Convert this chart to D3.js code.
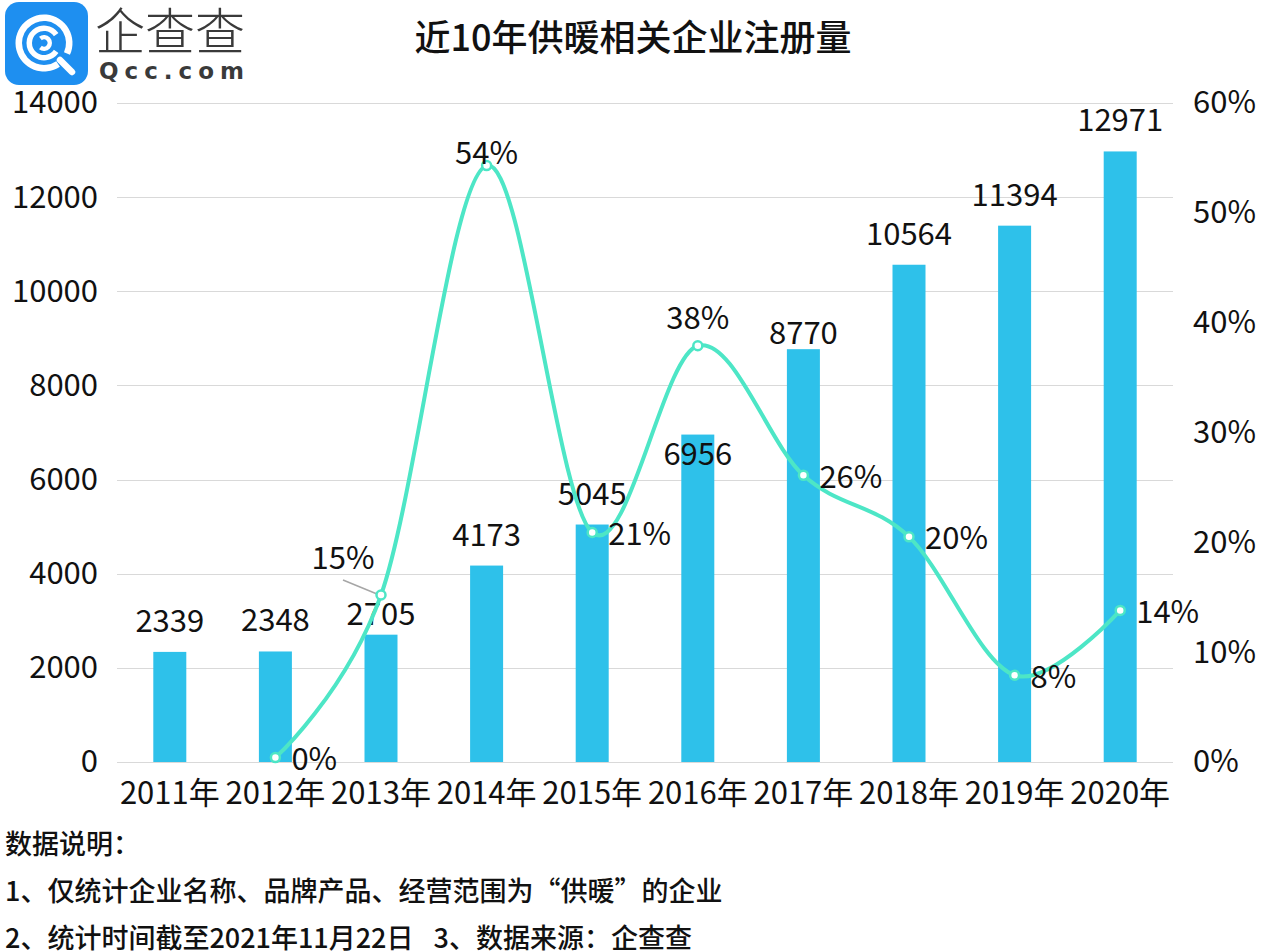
<!DOCTYPE html>
<html><head><meta charset="utf-8">
<script src="https://cdn.jsdelivr.net/npm/d3@7/dist/d3.min.js"></script>
<style>
html,body{margin:0;padding:0;background:#fff;}
svg{display:block;font-family:"Noto Sans CJK SC","Noto Sans",sans-serif;}
</style></head>
<body>
<svg id="chart" width="1268" height="952"></svg>
<script>
const years = ["2011年","2012年","2013年","2014年","2015年","2016年","2017年","2018年","2019年","2020年"];
const registrations = [2339,2348,2705,4173,5045,6956,8770,10564,11394,12971];
const growthYears = ["2012年","2013年","2014年","2015年","2016年","2017年","2018年","2019年","2020年"];
const growthPct = [0.4,15.2,54.3,20.9,37.9,26.1,20.5,7.9,13.8];
const growthLabels = ["0%","15%","54%","21%","38%","26%","20%","8%","14%"];
const leftTicks = [0,2000,4000,6000,8000,10000,12000,14000];
const rightTicks = [0,10,20,30,40,50,60];
const title = "近10年供暖相关企业注册量";
const notes = ["数据说明：","1、仅统计企业名称、品牌产品、经营范围为“供暖”的企业",["2、统计时间截至2021年11月22日","3、数据来源：企查查"]];

const svg = d3.select("#chart");
const M = {left:117, right:1173, top:103, bottom:762};
const FONT = 31;

const x = d3.scaleBand().domain(years).range([M.left, M.right]).paddingInner(0).paddingOuter(0);
const yL = d3.scaleLinear().domain([0,14000]).range([M.bottom, M.top]);
const yR = d3.scaleLinear().domain([0,60]).range([M.bottom, M.top]);
const cx = d => x(d) + x.bandwidth()/2;
const barW = 33;

// gridlines
svg.append("g").selectAll("line").data(leftTicks).join("line")
  .attr("x1", M.left).attr("x2", M.right)
  .attr("y1", d => Math.round(yL(d))+0.5).attr("y2", d => Math.round(yL(d))+0.5)
  .attr("stroke", "#d9d9d9").attr("stroke-width", 1.2);

// left axis
const gl = svg.append("g").attr("transform", `translate(${M.left},0)`)
  .call(d3.axisLeft(yL).tickValues(leftTicks).tickSize(0).tickPadding(19).tickFormat(d3.format("d")));
gl.select(".domain").remove();
gl.selectAll("text").attr("font-size", FONT).attr("fill", "#111").attr("font-family", "Noto Sans CJK SC");

// right axis
const gr = svg.append("g").attr("transform", `translate(${M.right},0)`)
  .call(d3.axisRight(yR).tickValues(rightTicks).tickSize(0).tickPadding(20).tickFormat(d => d + "%"));
gr.select(".domain").remove();
gr.selectAll("text").attr("font-size", FONT).attr("fill", "#111").attr("font-family", "Noto Sans CJK SC");

// bottom axis
const gb = svg.append("g").attr("transform", `translate(0,${M.bottom})`)
  .call(d3.axisBottom(x).tickSize(0).tickPadding(20));
gb.select(".domain").remove();
gb.selectAll("text").attr("font-size", FONT).attr("fill", "#111").attr("font-family", "Noto Sans CJK SC");

// bars
const bars = years.map((y,i) => ({year:y, value:registrations[i]}));
svg.append("g").selectAll("rect").data(bars).join("rect")
  .attr("x", d => cx(d.year) - barW/2).attr("width", barW)
  .attr("y", d => yL(d.value)).attr("height", d => yL(0) - yL(d.value))
  .attr("fill", "#2ec1ea");

// bar labels (Excel auto-placement tweaks)
const barDy = {"2013年": -10, "2016年": 30, "2017年": -5};
svg.append("g").selectAll("text").data(bars).join("text")
  .attr("x", d => cx(d.year))
  .attr("y", d => yL(d.value) + (barDy[d.year] !== undefined ? barDy[d.year] : -20))
  .attr("text-anchor", "middle").attr("font-size", FONT).attr("fill", "#111")
  .text(d => d.value);

// line
const pts = growthYears.map((y,i) => ({year:y, v:growthPct[i], label:growthLabels[i]}));
const line = d3.line().x(d => cx(d.year)).y(d => yR(d.v)).curve(d3.curveCatmullRom.alpha(0));
svg.append("path").datum(pts).attr("d", line)
  .attr("fill", "none").attr("stroke", "#4de6c6").attr("stroke-width", 4);

// leader line for 15%
const p15 = pts[1];
svg.append("line")
  .attr("x1", cx(p15.year) - 38).attr("y1", yR(p15.v) - 15)
  .attr("x2", cx(p15.year) - 4).attr("y2", yR(p15.v) - 1)
  .attr("stroke", "#a6a6a6").attr("stroke-width", 1.5);

svg.append("g").selectAll("circle").data(pts).join("circle")
  .attr("cx", d => cx(d.year)).attr("cy", d => yR(d.v)).attr("r", 4.5)
  .attr("fill", "#fff").attr("stroke", "#4de6c6").attr("stroke-width", 2.5);

// percentage labels
const place = {"0%":"right","15%":"leader","54%":"above","21%":"right","38%":"above","26%":"right","20%":"right","8%":"right","14%":"right"};
svg.append("g").selectAll("text").data(pts).join("text")
  .attr("font-size", FONT).attr("fill", "#111")
  .attr("dominant-baseline", "central")
  .attr("text-anchor", d => place[d.label] === "right" ? "start" : "middle")
  .attr("x", d => {
    const p = place[d.label];
    if (p === "right") return cx(d.year) + 16;
    if (p === "leader") return cx(d.year) - 38;
    return cx(d.year);
  })
  .attr("y", d => {
    const p = place[d.label];
    if (p === "right") return yR(d.v) - 1;
    if (p === "leader") return yR(d.v) - 40;
    if (d.label === "54%") return yR(d.v) - 15;
    return yR(d.v) - 30;
  })
  .text(d => d.label);

// title
svg.append("text").attr("x", 633).attr("y", 35).attr("text-anchor", "middle")
  .attr("dominant-baseline", "central").attr("font-size", 36).attr("font-weight", 500).attr("fill", "#111")
  .text(title);

// notes
const ng = svg.append("g");
notes.forEach((d, i) => {
  const t = ng.append("text").attr("x", 5).attr("y", 842 + i*47).attr("dominant-baseline", "central")
    .attr("font-size", 27).attr("font-weight", 500).attr("fill", "#111");
  if (Array.isArray(d)) {
    t.append("tspan").text(d[0]);
    t.append("tspan").attr("dx", 20).text(d[1]);
  } else {
    t.text(d);
  }
});

// logo
const logo = svg.append("g");
logo.append("rect").attr("x", 5).attr("y", 2).attr("width", 83).attr("height", 83).attr("rx", 14).attr("fill", "#1e8ff0");
const lc = {x: 44, y: 43};
const arc = d3.arc();
logo.append("path").attr("transform", `translate(${lc.x},${lc.y})`)
  .attr("d", arc({innerRadius: 22, outerRadius: 28.5, startAngle: 2.55, endAngle: 2.55 + 2*Math.PI - 0.55}))
  .attr("fill", "#fff");
logo.append("line").attr("x1", 60).attr("y1", 60).attr("x2", 72).attr("y2", 72)
  .attr("stroke", "#fff").attr("stroke-width", 6.5).attr("stroke-linecap", "round");
logo.append("path").attr("transform", `translate(${lc.x},${lc.y})`)
  .attr("d", arc({innerRadius: 12, outerRadius: 17.5, startAngle: 0.6 + Math.PI/2, endAngle: 0.6 + Math.PI/2 + 2*Math.PI - 1.2}))
  .attr("fill", "#fff");
logo.append("path").attr("transform", `translate(${lc.x},${lc.y})`)
  .attr("d", arc({innerRadius: 3.5, outerRadius: 8, startAngle: 0.9 - Math.PI/2, endAngle: Math.PI*2 - 0.9 - Math.PI/2}))
  .attr("fill", "#fff");
logo.append("text").attr("x", 95).attr("y", 28).attr("dominant-baseline", "central")
  .attr("font-size", 50).attr("fill", "#3a3a3a").attr("font-weight", 300).text("企查查");
logo.append("text").attr("x", 99).attr("y", 71).attr("dominant-baseline", "central")
  .attr("font-size", 23).attr("font-weight", 700).attr("fill", "#3a3a3a").attr("letter-spacing", 6)
  .attr("font-family", "DejaVu Sans").text("Qcc.com");
</script>
</body></html>
